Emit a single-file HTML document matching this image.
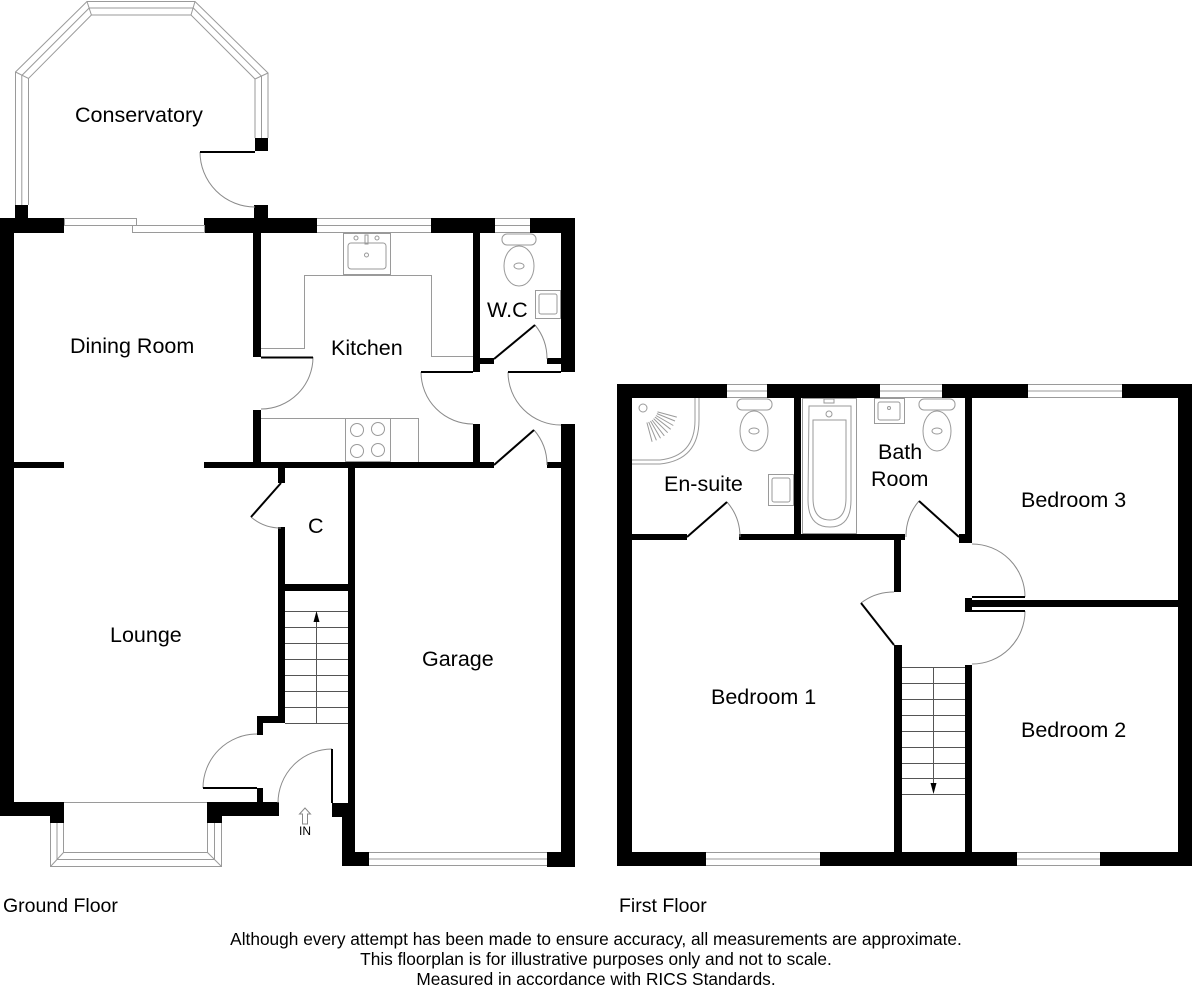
<!DOCTYPE html>
<html><head><meta charset="utf-8">
<style>
html,body{margin:0;padding:0;background:#fff;}
svg{display:block;}
text{font-family:"Liberation Sans",Arial,sans-serif;fill:#000;}
</style></head><body>
<svg width="1192" height="992" viewBox="0 0 1192 992" xmlns="http://www.w3.org/2000/svg">
<rect width="1192" height="992" fill="#fff"/>

<!-- Conservatory glazing -->
<g fill="none" stroke="#9a9a9a" stroke-width="1">
<polyline points="15.5,205 15.5,72 87,1.5 195,1.5 268,73 268,138"/>
<polyline points="21.8,205 21.8,75.5 89.2,8 193.3,8 261.5,76.2 261.5,138"/>
<polyline points="28.5,205 28.5,78.4 91.4,15 191,15 255,79 255,138"/>
<line x1="87" y1="1.5" x2="91.4" y2="15"/>
<line x1="15.5" y1="72" x2="28.5" y2="78.4"/>
<line x1="195" y1="1.5" x2="191" y2="15"/>
<line x1="268" y1="73" x2="255" y2="79"/>
</g>

<!-- Ground floor walls -->
<g fill="#000">
<rect x="0" y="218" width="64" height="15"/>
<rect x="0" y="218" width="14" height="598"/>
<rect x="15" y="205" width="13" height="13"/>
<rect x="254" y="205" width="14" height="13"/>
<rect x="255" y="138" width="13" height="13"/>
<rect x="204" y="218" width="113" height="15"/>
<rect x="431" y="218" width="64" height="15"/>
<rect x="530" y="218" width="45" height="15"/>
<rect x="561" y="218" width="14" height="154"/>
<rect x="253" y="233" width="8" height="124"/>
<rect x="253" y="410" width="8" height="58"/>
<rect x="473" y="233" width="7" height="139"/>
<rect x="473" y="424" width="7" height="44"/>
<rect x="480" y="358" width="14" height="6"/>
<rect x="547" y="358" width="14" height="6"/>
<rect x="561" y="424" width="14" height="443"/>
<rect x="14" y="462" width="50" height="6"/>
<rect x="204" y="462" width="290" height="6"/>
<rect x="547" y="462" width="14" height="6"/>
<rect x="278" y="468" width="7" height="15"/>
<rect x="278" y="527" width="7" height="196"/>
<rect x="285" y="584" width="63" height="7"/>
<rect x="348" y="468" width="7" height="398"/>
<rect x="257" y="716" width="28" height="7"/>
<rect x="257" y="716" width="6" height="19"/>
<rect x="257" y="788" width="6" height="15"/>
<rect x="0" y="802" width="64" height="14"/>
<rect x="50" y="802" width="14" height="21"/>
<rect x="207" y="802" width="72" height="14"/>
<rect x="207" y="802" width="15" height="21"/>
<rect x="332" y="803" width="23" height="14"/>
<rect x="342" y="803" width="13" height="63"/>
<rect x="342" y="852" width="27" height="14"/>
<rect x="547" y="852" width="28" height="15"/>
</g>

<!-- Ground floor windows -->
<g fill="none" stroke="#9a9a9a" stroke-width="1">
<rect x="64.5" y="218.5" width="72" height="7"/>
<rect x="132.5" y="225.5" width="72" height="7"/>
<line x1="317" y1="218.5" x2="431" y2="218.5"/>
<line x1="317" y1="225.5" x2="431" y2="225.5"/>
<line x1="317" y1="232.5" x2="431" y2="232.5"/>
<line x1="495" y1="218.5" x2="530" y2="218.5"/>
<line x1="495" y1="225.5" x2="530" y2="225.5"/>
<line x1="495" y1="232.5" x2="530" y2="232.5"/>
<line x1="369" y1="852.5" x2="547" y2="852.5"/>
<line x1="369" y1="859" x2="547" y2="859"/>
<line x1="369" y1="865.5" x2="547" y2="865.5"/>
<line x1="64" y1="802.5" x2="207" y2="802.5"/>
<polyline points="50.5,823 50.5,866.5 221.5,866.5 221.5,823"/>
<polyline points="57,823 57,859.5 214.5,859.5 214.5,823"/>
<polyline points="63.5,823 63.5,852.5 207.5,852.5 207.5,823"/>
<line x1="50.5" y1="866.5" x2="63.5" y2="852.5"/>
<line x1="221.5" y1="866.5" x2="207.5" y2="852.5"/>
</g>

<!-- Ground floor door arcs -->
<g fill="none" stroke="#8a8a8a" stroke-width="1">
<path d="M200,152 A55,55 0 0 0 255,207"/>
<path d="M313,357 A52,52 0 0 1 261,409"/>
<path d="M421,372 A52,52 0 0 0 473,424"/>
<path d="M508,372 A53,53 0 0 0 561,425"/>
<path d="M535,325 A53,53 0 0 1 547,359"/>
<path d="M534,430 A53,53 0 0 1 547,465"/>
<path d="M251,517 A45,45 0 0 0 281,528"/>
<path d="M203,788 A54,54 0 0 1 257,734"/>
<path d="M278,803 A54,54 0 0 1 332,749"/>
</g>
<!-- Ground floor door leaves -->
<g stroke="#000" stroke-width="2" fill="none">
<line x1="200" y1="152" x2="255" y2="152"/>
<line x1="261" y1="357.5" x2="313" y2="357.5"/>
<line x1="421" y1="372" x2="473" y2="372"/>
<line x1="508" y1="372" x2="561" y2="372"/>
<line x1="494" y1="359" x2="535" y2="325"/>
<line x1="494" y1="465" x2="534" y2="430"/>
<line x1="281" y1="483" x2="251" y2="517"/>
<line x1="203" y1="788" x2="257" y2="788"/>
<line x1="332" y1="749" x2="332" y2="803"/>
</g>

<!-- Ground stairs -->
<g stroke="#555" stroke-width="1" fill="none">
<line x1="285" y1="611.5" x2="348" y2="611.5"/>
<line x1="285" y1="627.5" x2="348" y2="627.5"/>
<line x1="285" y1="643.5" x2="348" y2="643.5"/>
<line x1="285" y1="659.5" x2="348" y2="659.5"/>
<line x1="285" y1="675.5" x2="348" y2="675.5"/>
<line x1="285" y1="691.5" x2="348" y2="691.5"/>
<line x1="285" y1="707.5" x2="348" y2="707.5"/>
<line x1="285" y1="723.5" x2="348" y2="723.5"/>
<line x1="316.5" y1="620" x2="316.5" y2="723"/>
</g>
<polygon points="313.5,622 319.5,622 316.5,611" fill="#000"/>

<!-- Kitchen fittings -->
<g fill="none" stroke="#9a9a9a" stroke-width="1">
<polyline points="261,348.5 304.5,348.5 304.5,275.5 431.5,275.5 431.5,356.5 473,356.5"/>
<rect x="343.5" y="233.5" width="47" height="41"/>
<rect x="348" y="243" width="38" height="26" rx="3"/>
<circle cx="356" cy="238" r="2"/>
<circle cx="377" cy="238" r="2"/>
<rect x="365" y="235" width="3" height="9"/>
<circle cx="366.5" cy="255" r="2"/>
<polyline points="261,418.5 418.5,418.5 418.5,462"/>
<rect x="345.5" y="418.5" width="45" height="43"/>
<circle cx="357" cy="430" r="6.5"/>
<circle cx="378" cy="429" r="6.5"/>
<circle cx="357" cy="451" r="6.5"/>
<circle cx="378" cy="450" r="6.5"/>
<!-- WC -->
<rect x="502" y="234" width="34" height="11" rx="5"/>
<ellipse cx="519" cy="266" rx="15" ry="20"/>
<ellipse cx="519" cy="266" rx="5" ry="3"/>
<rect x="535.5" y="290.5" width="25" height="28"/>
<rect x="539" y="294" width="18" height="20" rx="2"/>
</g>

<!-- IN arrow -->
<polygon points="305,808 299.5,814 302.5,814 302.5,824 307.5,824 307.5,814 310.5,814" fill="none" stroke="#888" stroke-width="1"/>
<text x="305" y="835" font-size="12" text-anchor="middle">IN</text>

<!-- First floor walls -->
<g fill="#000">
<rect x="617" y="384" width="110" height="14"/>
<rect x="767" y="384" width="113" height="14"/>
<rect x="942" y="384" width="86" height="14"/>
<rect x="1122" y="384" width="70" height="14"/>
<rect x="617" y="384" width="15" height="482"/>
<rect x="1178" y="384" width="14" height="482"/>
<rect x="617" y="852" width="89" height="14"/>
<rect x="820" y="852" width="197" height="14"/>
<rect x="1100" y="852" width="92" height="14"/>
<rect x="794" y="398" width="7" height="136"/>
<rect x="632" y="534" width="55" height="6"/>
<rect x="739" y="534" width="166" height="6"/>
<rect x="965" y="398" width="7" height="145"/>
<rect x="959" y="534" width="6" height="9"/>
<rect x="894" y="540" width="7" height="52"/>
<rect x="894" y="645" width="8" height="207"/>
<rect x="965" y="598" width="7" height="14"/>
<rect x="972" y="600" width="206" height="7"/>
<rect x="965" y="665" width="7" height="187"/>
</g>

<!-- First floor windows -->
<g fill="none" stroke="#9a9a9a" stroke-width="1">
<line x1="727" y1="384.5" x2="767" y2="384.5"/>
<line x1="727" y1="391" x2="767" y2="391"/>
<line x1="727" y1="397.5" x2="767" y2="397.5"/>
<line x1="880" y1="384.5" x2="942" y2="384.5"/>
<line x1="880" y1="391" x2="942" y2="391"/>
<line x1="880" y1="397.5" x2="942" y2="397.5"/>
<line x1="1028" y1="384.5" x2="1122" y2="384.5"/>
<line x1="1028" y1="391" x2="1122" y2="391"/>
<line x1="1028" y1="397.5" x2="1122" y2="397.5"/>
<line x1="706" y1="852.5" x2="820" y2="852.5"/>
<line x1="706" y1="859" x2="820" y2="859"/>
<line x1="706" y1="865.5" x2="820" y2="865.5"/>
<line x1="1017" y1="852.5" x2="1100" y2="852.5"/>
<line x1="1017" y1="859" x2="1100" y2="859"/>
<line x1="1017" y1="865.5" x2="1100" y2="865.5"/>
</g>

<!-- First floor door arcs -->
<g fill="none" stroke="#8a8a8a" stroke-width="1">
<path d="M727,502 A53,53 0 0 1 740,537"/>
<path d="M919,501 A53,53 0 0 0 906,537"/>
<path d="M894,592 A53,53 0 0 0 861,603"/>
<path d="M972,544 A53,53 0 0 1 1025,597"/>
<path d="M1025,611 A53,53 0 0 1 972,664"/>
</g>
<g stroke="#000" stroke-width="2" fill="none">
<line x1="687" y1="537" x2="727" y2="502"/>
<line x1="959" y1="537" x2="919" y2="501"/>
<line x1="894" y1="645" x2="861" y2="603"/>
<line x1="972" y1="597" x2="1025" y2="597"/>
<line x1="972" y1="611" x2="1025" y2="611"/>
</g>

<!-- First floor stairs -->
<g stroke="#555" stroke-width="1" fill="none">
<line x1="902" y1="667.5" x2="965" y2="667.5"/>
<line x1="902" y1="683.5" x2="965" y2="683.5"/>
<line x1="902" y1="699.5" x2="965" y2="699.5"/>
<line x1="902" y1="715.5" x2="965" y2="715.5"/>
<line x1="902" y1="731.5" x2="965" y2="731.5"/>
<line x1="902" y1="747.5" x2="965" y2="747.5"/>
<line x1="902" y1="763.5" x2="965" y2="763.5"/>
<line x1="902" y1="778.5" x2="965" y2="778.5"/>
<line x1="902" y1="794.5" x2="965" y2="794.5"/>
<line x1="933.5" y1="667" x2="933.5" y2="785"/>
</g>
<polygon points="930.5,783 936.5,783 933.5,794" fill="#000"/>

<!-- First floor fittings -->
<g fill="none" stroke="#9a9a9a" stroke-width="1">
<!-- shower -->
<path d="M632,464 L660,464 Q699,460 699,420 L699,398"/>
<path d="M632,460 L660,460 Q695,456 695,420 L695,398"/>
<circle cx="643" cy="408" r="4"/>
<line x1="657.5" y1="411.9" x2="676.8" y2="417.1"/>
<line x1="656.9" y1="413.6" x2="675" y2="421"/>
<line x1="656" y1="415.5" x2="673.3" y2="425.5"/>
<line x1="654.9" y1="417" x2="670.7" y2="429.3"/>
<line x1="653.6" y1="418.6" x2="667.7" y2="432.7"/>
<line x1="652" y1="420" x2="664.3" y2="435.8"/>
<line x1="650.5" y1="421" x2="660.5" y2="438.3"/>
<line x1="648.7" y1="421.9" x2="656.4" y2="440.3"/>
<line x1="646.9" y1="422.5" x2="652.1" y2="441.8"/>
<!-- en-suite toilet -->
<rect x="737" y="399" width="35" height="11" rx="5"/>
<ellipse cx="754" cy="431" rx="14" ry="20"/>
<ellipse cx="754" cy="431" rx="5" ry="3"/>
<!-- en-suite basin -->
<rect x="768.5" y="474.5" width="25" height="31"/>
<rect x="772" y="478" width="18" height="24" rx="2"/>
<!-- bath -->
<rect x="802.5" y="398.5" width="54" height="135"/>
<path d="M809,406 L851,406 L851,500 Q851,527 830,527 Q808,527 808,500 Z"/>
<path d="M813,420 L846,420 L846,498 Q846,520 830,520 Q813,520 813,498 Z"/>
<circle cx="829" cy="414" r="3"/>
<rect x="824" y="399" width="10" height="4"/>
<!-- bath basin -->
<rect x="874.5" y="398.5" width="30" height="25"/>
<rect x="878" y="402" width="22" height="18" rx="2"/>
<circle cx="889" cy="408" r="1.5"/>
<!-- bath toilet -->
<rect x="919" y="399" width="36" height="11" rx="5"/>
<ellipse cx="937" cy="431" rx="14" ry="20"/>
<ellipse cx="937" cy="431" rx="5" ry="3"/>
</g>

<!-- Room labels -->
<g font-size="21.5">
<text x="75" y="122">Conservatory</text>
<text x="70" y="353">Dining Room</text>
<text x="331" y="355">Kitchen</text>
<text x="487" y="317">W.C</text>
<text x="308" y="533">C</text>
<text x="110" y="642">Lounge</text>
<text x="422" y="666">Garage</text>
<text x="664" y="491">En-suite</text>
<text x="878" y="459">Bath</text>
<text x="871" y="486">Room</text>
<text x="1021" y="507">Bedroom 3</text>
<text x="711" y="704">Bedroom 1</text>
<text x="1021" y="737">Bedroom 2</text>
</g>

<!-- Footer -->
<text x="3" y="912" font-size="19.5">Ground Floor</text>
<text x="619" y="912" font-size="19.5">First Floor</text>
<g font-size="17.3" text-anchor="middle">
<text x="596" y="945">Although every attempt has been made to ensure accuracy, all measurements are approximate.</text>
<text x="596" y="965">This floorplan is for illustrative purposes only and not to scale.</text>
<text x="596" y="985">Measured in accordance with RICS Standards.</text>
</g>
</svg>
</body></html>
